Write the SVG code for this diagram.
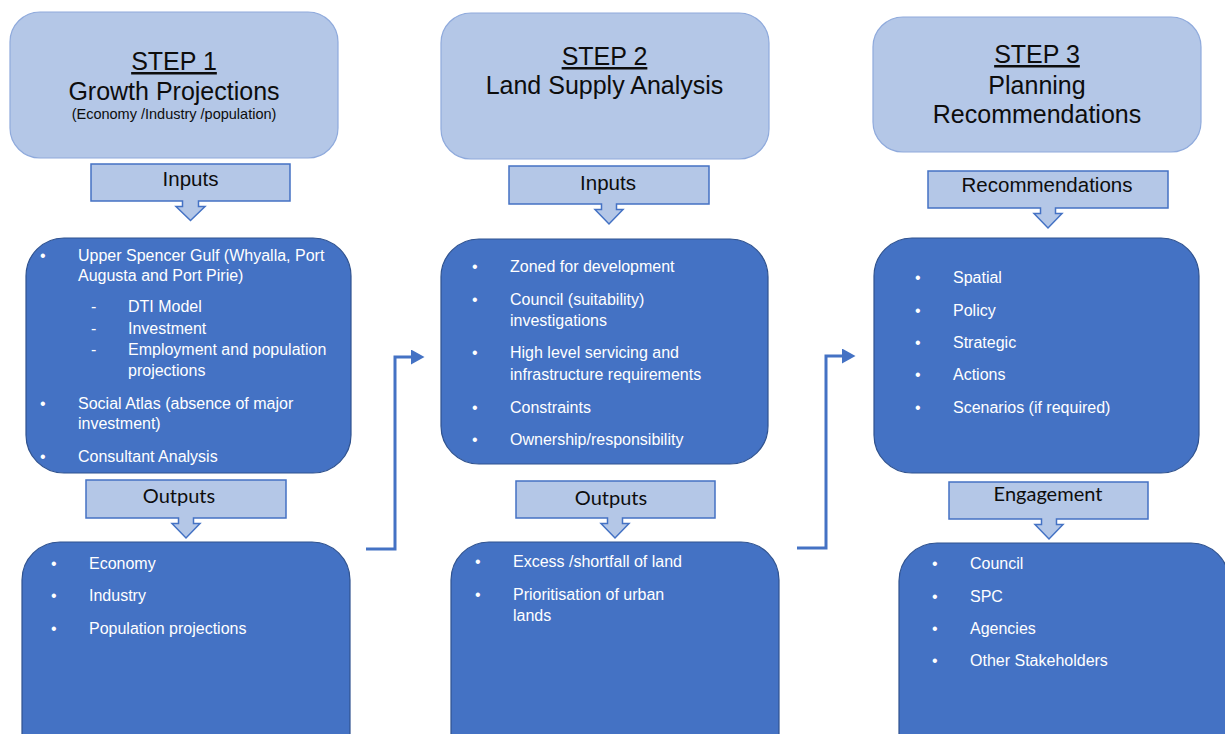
<svg xmlns="http://www.w3.org/2000/svg" width="1225" height="734" viewBox="0 0 1225 734">
<style>
.hdr{fill:#B4C7E7;stroke:#8FAADC;stroke-width:1.2}
.call{fill:#B4C7E7;stroke:#4472C4;stroke-width:1.5}
.box{fill:#4472C4;stroke:#2F528F;stroke-width:1.2}
.ht{font-family:"Liberation Sans",Arial,sans-serif;font-size:25px;fill:#0d0d0d;text-anchor:middle}
.hs{font-family:"Liberation Sans",Arial,sans-serif;font-size:14.5px;fill:#0d0d0d;text-anchor:middle}
.ct{font-family:"Liberation Sans",Arial,sans-serif;font-size:20.5px;fill:#0d0d0d;text-anchor:middle}
.cc{font-family:Lato,"Liberation Sans",sans-serif;font-size:20px;fill:#0d0d0d;text-anchor:middle}
.bt{font-family:"Liberation Sans",Arial,sans-serif;font-size:16px;fill:#ffffff}
.conn{fill:none;stroke:#4472C4;stroke-width:3}
</style>
<defs>
<marker id="ah" markerWidth="5" markerHeight="5" refX="0" refY="2.5" orient="auto" markerUnits="strokeWidth">
<path d="M0,0 L4.5,2.5 L0,5 Z" fill="#4472C4"/>
</marker>
</defs>

<g id="step1-header">
<rect class="hdr" x="10" y="12" width="328" height="146" rx="30"/>
<text class="ht" x="174" y="70" text-decoration="underline">STEP 1</text>
<text class="ht" x="174" y="100">Growth Projections</text>
<text class="hs" x="174" y="119">(Economy /Industry /population)</text>
</g>
<g id="step1-inputs-label">
<path class="call" d="M91,164 H290 V201 H198.5 V206.5 H205 L190.5,220.5 L176,206.5 H182.5 V201 H91 Z"/>
<text class="ct" x="190.5" y="186">Inputs</text>
</g>
<g id="step1-inputs">
<rect class="box" x="26" y="238" width="325" height="235" rx="38"/>
<g class="bt">
<text x="40" y="261">•</text><text x="78" y="261">Upper Spencer Gulf (Whyalla, Port</text>
<text x="78" y="281">Augusta and Port Pirie)</text>
<text x="91" y="312">-</text><text x="128" y="312">DTI Model</text>
<text x="91" y="334">-</text><text x="128" y="334">Investment</text>
<text x="91" y="355">-</text><text x="128" y="355">Employment and population</text>
<text x="128" y="376">projections</text>
<text x="40" y="409">•</text><text x="78" y="409">Social Atlas (absence of major</text>
<text x="78" y="429">investment)</text>
<text x="40" y="462">•</text><text x="78" y="462">Consultant Analysis</text>
</g>
</g>
<g id="step1-outputs-label">
<path class="call" d="M86,480 H286 V518 H193.5 V523.5 H200 L186,538 L172,523.5 H178.5 V518 H86 Z"/>
<text class="cc" x="179" y="503">Outputs</text>
</g>
<g id="step1-outputs">
<rect class="box" x="22" y="542" width="328" height="230" rx="38"/>
<g class="bt">
<text x="51" y="569">•</text><text x="89" y="569">Economy</text>
<text x="51" y="601">•</text><text x="89" y="601">Industry</text>
<text x="51" y="634">•</text><text x="89" y="634">Population projections</text>
</g>
</g>

<g id="step2-header">
<rect class="hdr" x="441" y="13" width="328" height="146" rx="30"/>
<text class="ht" x="604.5" y="65" text-decoration="underline">STEP 2</text>
<text class="ht" x="604.5" y="94">Land Supply Analysis</text>
</g>
<g id="step2-inputs-label">
<path class="call" d="M509,166 H709 V204 H616.5 V209.5 H623 L609,224 L595,209.5 H601.5 V204 H509 Z"/>
<text class="ct" x="608" y="190">Inputs</text>
</g>
<g id="step2-inputs">
<rect class="box" x="441" y="239" width="327" height="225" rx="38"/>
<g class="bt">
<text x="472" y="272">•</text><text x="510" y="272">Zoned for development</text>
<text x="472" y="305">•</text><text x="510" y="305">Council (suitability)</text>
<text x="510" y="326">investigations</text>
<text x="472" y="358">•</text><text x="510" y="358">High level servicing and</text>
<text x="510" y="380">infrastructure requirements</text>
<text x="472" y="413">•</text><text x="510" y="413">Constraints</text>
<text x="472" y="445">•</text><text x="510" y="445">Ownership/responsibility</text>
</g>
</g>
<g id="step2-outputs-label">
<path class="call" d="M516,481 H715 V518 H622.5 V523.5 H629 L615,538 L601,523.5 H607.5 V518 H516 Z"/>
<text class="cc" x="611" y="505">Outputs</text>
</g>
<g id="step2-outputs">
<rect class="box" x="451" y="542" width="328" height="230" rx="38"/>
<g class="bt">
<text x="475" y="567">•</text><text x="513" y="567">Excess /shortfall of land</text>
<text x="475" y="600">•</text><text x="513" y="600">Prioritisation of urban</text>
<text x="513" y="621">lands</text>
</g>
</g>

<g id="step3-header">
<rect class="hdr" x="873" y="17" width="328" height="135" rx="30"/>
<text class="ht" x="1037" y="63" text-decoration="underline">STEP 3</text>
<text class="ht" x="1037" y="94">Planning</text>
<text class="ht" x="1037" y="123">Recommendations</text>
</g>
<g id="step3-recommendations-label">
<path class="call" d="M928,171 H1168 V208 H1055.5 V213.5 H1062 L1048,228 L1034,213.5 H1040.5 V208 H928 Z"/>
<text class="ct" x="1047" y="192">Recommendations</text>
</g>
<g id="step3-recommendations">
<rect class="box" x="874" y="238" width="325" height="235" rx="38"/>
<g class="bt">
<text x="915" y="283">•</text><text x="953" y="283">Spatial</text>
<text x="915" y="316">•</text><text x="953" y="316">Policy</text>
<text x="915" y="348">•</text><text x="953" y="348">Strategic</text>
<text x="915" y="380">•</text><text x="953" y="380">Actions</text>
<text x="915" y="413">•</text><text x="953" y="413">Scenarios (if required)</text>
</g>
</g>
<g id="step3-engagement-label">
<path class="call" d="M949,482 H1148 V519 H1056.5 V524.5 H1063 L1049,539 L1035,524.5 H1041.5 V519 H949 Z"/>
<text class="cc" x="1048" y="501">Engagement</text>
</g>
<g id="step3-engagement">
<rect class="box" x="899" y="543" width="330" height="230" rx="38"/>
<g class="bt">
<text x="932" y="569">•</text><text x="970" y="569">Council</text>
<text x="932" y="602">•</text><text x="970" y="602">SPC</text>
<text x="932" y="634">•</text><text x="970" y="634">Agencies</text>
<text x="932" y="666">•</text><text x="970" y="666">Other Stakeholders</text>
</g>
</g>

<g id="connectors">
<path class="conn" d="M366,549 H395 V357 H411" marker-end="url(#ah)"/>
<path class="conn" d="M797,548 H826 V356 H842" marker-end="url(#ah)"/>
</g>
</svg>
